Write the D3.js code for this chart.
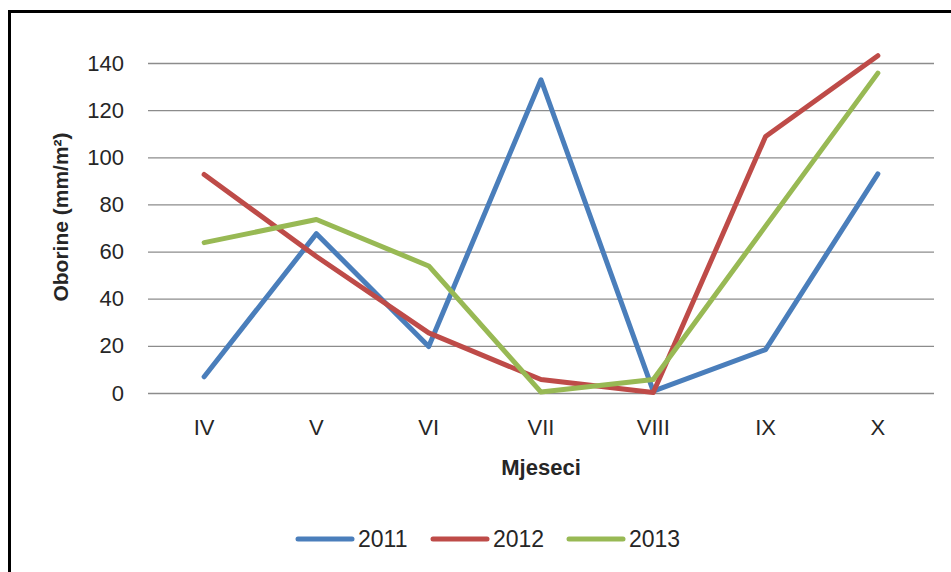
<!DOCTYPE html>
<html>
<head>
<meta charset="utf-8">
<script src="https://cdn.jsdelivr.net/npm/d3@7"></script>
<style>
	body { margin: 0; background: #fff; }
	text { font-family: "Liberation Sans", Arial, sans-serif; fill: #262626; }
</style>
</head>
<body>
<svg id="chart" width="951" height="572"></svg>
<script>
const months = ["IV", "V", "VI", "VII", "VIII", "IX", "X"];
const yTicks = [0, 20, 40, 60, 80, 100, 120, 140];
const years = ["2011", "2012", "2013"];
const values2011 = [6.9, 67.6, 19.7, 132.9, 0.8, 18.4, 93.0];
const values2012 = [92.7, 57.9, 25.5, 5.7, 0.2, 108.8, 143.1];
const values2013 = [63.8, 73.6, 53.9, 0.4, 5.7, 70.8, 135.7];
const colors = ["#4a7ebb", "#be4b48", "#98b954"];

const PLOT_LEFT = 148;
const PLOT_RIGHT = 934;
const PLOT_TOP = 63;
const PLOT_BOTTOM = 393;

let svg = d3.select("svg#chart");

// chart frame (only top and left edges are visible in the crop)
svg.append("rect")
	.attr("x", 9.5)
	.attr("y", 11.5)
	.attr("width", 1000)
	.attr("height", 1000)
	.attr("fill", "none")
	.attr("stroke", "black")
	.attr("stroke-width", 3)
	;

let x = d3.scaleBand()
	.domain(months)
	.range([PLOT_LEFT, PLOT_RIGHT]);

let y = d3.scaleLinear()
	.domain([0, 140])
	.range([PLOT_BOTTOM, PLOT_TOP]);

// gridlines + y labels
let yAxis = svg.append("g")
	.attr("transform", "translate(" + PLOT_LEFT + ",0)")
	.call(d3.axisLeft(y).tickValues(yTicks).tickSize(-(PLOT_RIGHT - PLOT_LEFT)).tickPadding(24));
yAxis.select(".domain").remove();
yAxis.selectAll(".tick line")
	.attr("stroke", "#8c8c8c")
	.attr("stroke-width", 1.3);
yAxis.selectAll(".tick text")
	.style("font-size", "22px")
	.style("font-family", "'Liberation Sans', Arial, sans-serif")
	.attr("fill", "#262626");

// x labels
let xAxis = svg.append("g")
	.attr("transform", "translate(0," + PLOT_BOTTOM + ")")
	.call(d3.axisBottom(x).tickSize(0).tickPadding(26));
xAxis.select(".domain").remove();
xAxis.selectAll(".tick text")
	.style("font-size", "22px")
	.style("font-family", "'Liberation Sans', Arial, sans-serif")
	.attr("fill", "#262626");

// axis titles
svg.append("text")
	.text("Oborine (mm/m²)")
	.attr("transform", "translate(68,217) rotate(-90)")
	.attr("text-anchor", "middle")
	.style("font-size", "21px")
	.style("font-weight", "bold")
	;

svg.append("text")
	.text("Mjeseci")
	.attr("x", (PLOT_LEFT + PLOT_RIGHT) / 2)
	.attr("y", 475)
	.attr("text-anchor", "middle")
	.style("font-size", "22px")
	.style("font-weight", "bold")
	;

// series lines
let series = [values2011, values2012, values2013];
let line = d3.line()
	.x((d, i) => x(months[i]) + x.bandwidth() / 2)
	.y(d => y(d));

series.forEach((vals, k) => {
	svg.append("path")
		.datum(vals)
		.attr("d", line)
		.attr("fill", "none")
		.attr("stroke", colors[k])
		.attr("stroke-width", 5)
		.attr("stroke-linejoin", "round")
		.attr("stroke-linecap", "round")
		;
});

// legend
let legendX = [298, 433, 569];
years.forEach((yr, k) => {
	svg.append("line")
		.attr("x1", legendX[k])
		.attr("x2", legendX[k] + 54)
		.attr("y1", 539)
		.attr("y2", 539)
		.attr("stroke", colors[k])
		.attr("stroke-width", 5)
		.attr("stroke-linecap", "round")
		;
	svg.append("text")
		.text(yr)
		.attr("x", legendX[k] + 60)
		.attr("y", 547)
		.style("font-size", "23px")
		;
});
</script>
</body>
</html>
